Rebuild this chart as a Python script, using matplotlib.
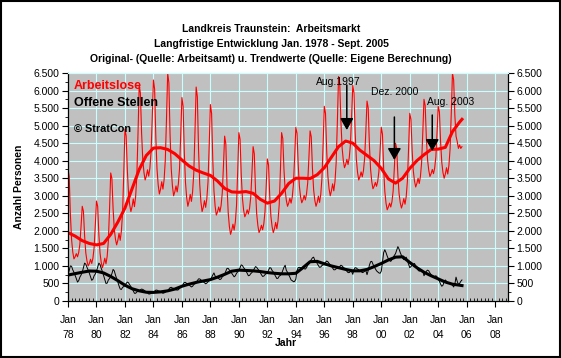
import numpy as np
import matplotlib
matplotlib.use('Agg')
import matplotlib.pyplot as plt
from matplotlib.ticker import FuncFormatter, MultipleLocator
from matplotlib.patches import Rectangle

plt.rcParams['font.family'] = ['Liberation Sans', 'DejaVu Sans']

# Monatswerte, eine Zeile pro Jahr (Jan..Dez), 2005 endet im September
jahre = list(range(1978, 2006))

arbeitslose = [
    [3750, 3550, 2480, 1760, 1400, 1200, 1260, 1350, 1260, 1380, 1620, 2130],  # 1978
    [2700, 2560, 1850, 1370, 1140, 1000, 1070, 1190, 1070, 1220, 1520, 2150],
    [2850, 2700, 1900, 1370, 1100, 950, 1060, 1220, 1060, 1270, 1710, 2620],
    [3650, 3490, 2630, 2050, 1760, 1600, 1730, 1930, 1730, 2000, 2520, 3650],
    [4900, 4710, 3730, 3070, 2740, 2550, 2690, 2910, 2690, 2980, 3560, 4780],
    [6150, 5930, 4800, 4040, 3670, 3450, 3560, 3740, 3560, 3790, 4250, 5220],
    [6300, 6040, 4680, 3770, 3310, 3050, 3190, 3400, 3190, 3460, 4020, 5190],
    [6500, 6220, 4750, 3770, 3280, 3000, 3110, 3280, 3110, 3340, 3780, 4740],
    [5800, 5550, 4250, 3380, 2950, 2700, 2840, 3040, 2840, 3110, 3650, 4810],
    [6100, 5820, 4330, 3330, 2830, 2550, 2670, 2860, 2670, 2920, 3400, 4440],
    [5600, 5350, 4030, 3140, 2700, 2450, 2540, 2680, 2540, 2720, 3080, 3850],  # 1988
    [4700, 4480, 3300, 2520, 2120, 1900, 2020, 2190, 2020, 2250, 2710, 3700],
    [4800, 4610, 3600, 2930, 2590, 2400, 2480, 2600, 2480, 2640, 2960, 3640],
    [4400, 4200, 3180, 2490, 2150, 1950, 2030, 2160, 2030, 2200, 2540, 3250],
    [4050, 3880, 3000, 2410, 2120, 1950, 2060, 2240, 2060, 2290, 2750, 3720],
    [4800, 4630, 3750, 3160, 2870, 2700, 2790, 2930, 2790, 2970, 3330, 4100],
    [4950, 4780, 3880, 3270, 2970, 2800, 2880, 3010, 2880, 3050, 3370, 4070],
    [4850, 4680, 3780, 3170, 2870, 2700, 2810, 2990, 2810, 3040, 3500, 4470],
    [5550, 5350, 4280, 3560, 3200, 3000, 3140, 3340, 3140, 3410, 3950, 5110],
    [6400, 6190, 5100, 4370, 4010, 3800, 3890, 4040, 3890, 4080, 4460, 5260],
    [6150, 5930, 4800, 4040, 3670, 3450, 3540, 3680, 3540, 3720, 4080, 4850],  # 1998
    [5700, 5500, 4450, 3750, 3400, 3200, 3270, 3380, 3270, 3410, 3690, 4290],
    [4950, 4760, 3780, 3120, 2790, 2600, 2680, 2790, 2680, 2830, 3130, 3780],
    [4500, 4350, 3580, 3060, 2800, 2650, 2760, 2920, 2760, 2970, 3410, 4320],
    [5350, 5180, 4300, 3710, 3420, 3250, 3350, 3500, 3350, 3550, 3950, 4800],
    [5750, 5570, 4650, 4030, 3730, 3550, 3630, 3750, 3630, 3790, 4110, 4790],
    [5550, 5390, 4530, 3950, 3660, 3500, 3620, 3800, 3620, 3860, 4340, 5360],
    [6500, 6300, 5300, 4700, 4550, 4350, 4450, 4350, 4400],  # 2005
]

offene_stellen = [
    [740, 870, 1000, 990, 890, 820, 730, 640, 540, 580, 680, 740],  # 1978
    [820, 950, 1080, 1050, 960, 880, 790, 690, 590, 620, 720, 770],
    [850, 960, 1080, 1040, 930, 840, 730, 610, 500, 510, 600, 640],
    [700, 780, 900, 860, 740, 640, 540, 430, 340, 330, 390, 410],
    [450, 500, 540, 520, 460, 410, 350, 290, 220, 220, 260, 270],
    [290, 320, 340, 330, 310, 280, 260, 230, 200, 200, 220, 230],
    [250, 280, 310, 310, 290, 280, 260, 240, 220, 230, 250, 270],
    [290, 340, 380, 390, 370, 360, 340, 320, 310, 320, 360, 390],
    [420, 470, 530, 530, 500, 480, 460, 430, 400, 420, 470, 490],
    [530, 580, 630, 630, 600, 580, 550, 520, 490, 510, 550, 580],
    [610, 670, 740, 800, 710, 690, 670, 640, 610, 630, 690, 720],  # 1988
    [760, 850, 930, 930, 880, 840, 790, 740, 690, 720, 790, 830],
    [880, 950, 1030, 1010, 950, 910, 850, 790, 720, 730, 780, 810],
    [860, 920, 980, 960, 910, 870, 810, 750, 700, 710, 750, 780],
    [810, 880, 950, 940, 870, 830, 760, 700, 640, 650, 710, 730],
    [780, 870, 960, 1020, 870, 820, 750, 680, 600, 580, 550, 560],
    [620, 870, 950, 960, 950, 950, 940, 920, 910, 950, 1020, 1060],
    [1120, 1180, 1230, 1250, 1160, 1120, 1070, 1010, 960, 970, 1010, 1030],
    [1060, 1100, 1140, 1120, 1070, 1030, 990, 940, 890, 890, 920, 930],
    [950, 980, 1020, 1000, 960, 930, 890, 850, 810, 810, 840, 840],
    [760, 900, 950, 940, 910, 890, 860, 840, 810, 820, 850, 870],  # 1998
    [750, 870, 1020, 1120, 1130, 1050, 980, 920, 860, 830, 800, 790],
    [850, 1100, 1380, 1460, 1380, 1280, 1200, 1150, 1130, 1180, 1240, 1300],
    [1350, 1450, 1550, 1480, 1380, 1300, 1220, 1180, 1200, 1250, 1150, 1050],
    [950, 980, 1020, 1050, 1070, 1000, 930, 880, 850, 870, 880, 860],
    [720, 780, 850, 880, 860, 800, 750, 720, 680, 700, 720, 690],
    [620, 560, 480, 420, 450, 550, 600, 560, 520, 500, 520, 480],
    [450, 400, 480, 680, 560, 470, 500, 560, 600],  # 2005
]

# Trendwerte halbjaehrlich (Jan / Jul), letzter Wert Sept. 2005
trend_jahr = list(np.arange(1978, 2005.6, 0.5)) + [2005.67]
trend_arbeitslose = [
    1950, 1850, 1720, 1640, 1600, 1640, 1900, 2250, 2650, 3200,
    3750, 4150, 4360, 4370, 4320, 4200, 4020, 3850, 3730, 3650,
    3580, 3420, 3210, 3110, 3100, 3120, 3070, 2900, 2790, 2850,
    3070, 3350, 3500, 3500, 3490, 3600, 3800, 4100, 4400, 4560,
    4500, 4300, 4150, 4000, 3780, 3480, 3360, 3500, 3780, 4000,
    4170, 4320, 4330, 4380, 4830, 5100, 5180,
]
trend_offene = [
    740, 780, 820, 855, 850, 800, 700, 580, 450, 350,
    290, 250, 245, 260, 290, 340, 420, 480, 530, 570,
    610, 680, 760, 850, 880, 870, 860, 840, 810, 790,
    775, 775, 790, 950, 1120, 1130, 1060, 1000, 950, 900,
    860, 860, 900, 980, 1070, 1170, 1250, 1260, 1100, 950,
    820, 720, 630, 540, 480, 450, 440,
]

# Pfeile: Text, Zeitpunkt, Pfeilspitze, Pfeilende, Textposition
pfeile = [
    ('Aug.1997', 1997.58, 4875, 6157, 1996.95, 6243),
    ('Dez. 2000', 2000.92, 4020, 5245, 2000.92, 5958),
    ('Aug. 2003', 2003.58, 4276, 5302, 2004.9, 5673),
]


def monate(rows):
    x, y = [], []
    for jahr, row in zip(jahre, rows):
        for m, v in enumerate(row):
            x.append(jahr + m / 12)
            y.append(v)
    return x, y


fig = plt.figure(figsize=(5.61, 3.58), dpi=100)
fig.patch.set_facecolor('white')
ax = fig.add_axes([68 / 561, 1 - 301 / 358, 440 / 561, 228 / 358])
ax.set_facecolor('#C0C0C0')

gridfarbe = '#C8FFFF'
ax.grid(True, which='major', color=gridfarbe, linewidth=0.8)
ax.set_axisbelow(True)

xs, ys = monate(offene_stellen)
ax.plot(xs, ys, color='black', linewidth=0.7)
ax.plot(trend_jahr, trend_offene, color='black', linewidth=2.2)
xa, ya = monate(arbeitslose)
ax.plot(xa, ya, color='red', linewidth=0.8)
ax.plot(trend_jahr, trend_arbeitslose, color='red', linewidth=2.2)

ax.set_xlim(1978, 2008.9)
ax.set_ylim(0, 6500)

xticks = list(range(1978, 2009, 2))
ax.set_xticks(xticks)
ax.set_xticklabels(['Jan\n%02d' % (j % 100) for j in xticks], fontsize=7.5, linespacing=1.6)
ax.xaxis.set_minor_locator(MultipleLocator(0.25))
ax.tick_params(axis='x', which='major', direction='out', length=4, pad=6)
ax.tick_params(axis='x', which='minor', direction='in', length=2)

ax.yaxis.set_major_locator(MultipleLocator(500))
ax.yaxis.set_minor_locator(MultipleLocator(250))
ax.yaxis.set_major_formatter(FuncFormatter(lambda v, p: f'{v:,.0f}'.replace(',', '.')))
ax.tick_params(axis='y', which='both', left=True, right=True,
               labelleft=True, labelright=True, direction='out', labelsize=7.5)
ax.tick_params(axis='y', which='major', length=4, pad=2)
ax.tick_params(axis='y', which='minor', length=2)

for s in ['left', 'right', 'bottom']:
    ax.spines[s].set_color('black')
    ax.spines[s].set_linewidth(0.9)
ax.spines['top'].set_color(gridfarbe)

ax.text(0.013, 0.943, 'Arbeitslose', transform=ax.transAxes, color='red',
        fontsize=9, fontweight='bold', va='center')
ax.text(0.013, 0.868, 'Offene Stellen', transform=ax.transAxes, color='black',
        fontsize=9, fontweight='bold', va='center')
ax.text(0.013, 0.754, '\u00a9 StratCon', transform=ax.transAxes, color='black',
        fontsize=7.8, fontweight='bold', va='center')

for txt, x, spitze, ende, tx, ty in pfeile:
    ax.annotate('', xy=(x, spitze), xytext=(x, ende),
                arrowprops=dict(arrowstyle='-|>,head_width=0.4,head_length=0.7',
                                color='black', lw=1.1, shrinkA=0, shrinkB=0))
    ax.text(tx, ty, txt, fontsize=7.5, ha='center', va='center')

fig.text(271 / 561, 1 - 29 / 358, 'Landkreis Traunstein:  Arbeitsmarkt',
         ha='center', va='center', fontsize=7.5, fontweight='bold')
fig.text(271 / 561, 1 - 44 / 358, 'Langfristige Entwicklung Jan. 1978 - Sept. 2005',
         ha='center', va='center', fontsize=7.5, fontweight='bold')
fig.text(271 / 561, 1 - 59 / 358,
         'Original- (Quelle: Arbeitsamt) u. Trendwerte (Quelle: Eigene Berechnung)',
         ha='center', va='center', fontsize=7.5, fontweight='bold')
fig.text(19 / 561, 1 - 187 / 358, 'Anzahl Personen', rotation=90,
         ha='center', va='center', fontsize=7.5, fontweight='bold')
fig.text(286 / 561, 1 - 343 / 358, 'Jahr', ha='center', va='center',
         fontsize=7.5, fontweight='bold')

fig.add_artist(Rectangle((0.0015, 0.002), 0.997, 0.995, transform=fig.transFigure,
                         fill=False, edgecolor='black', linewidth=1.5))

fig.savefig('out.png', dpi=100)
